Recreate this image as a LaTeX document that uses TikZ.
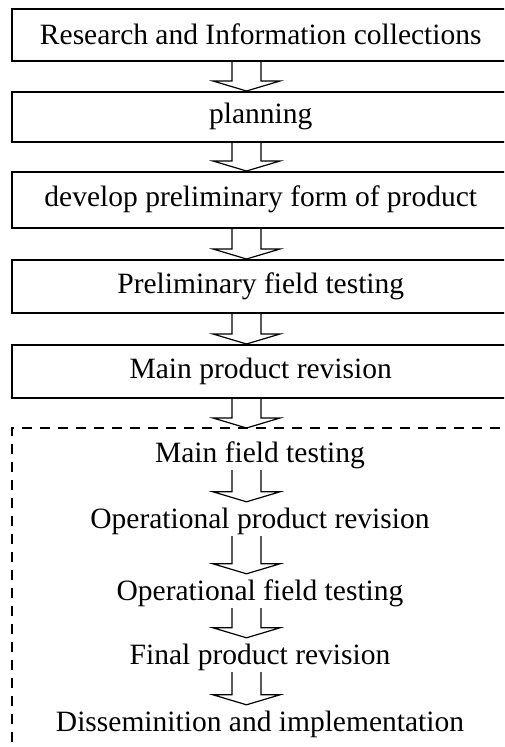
\documentclass[tikz,border=0pt]{standalone}
\usepackage{fontspec}
\setmainfont{Liberation Serif}
\usetikzlibrary{calc}
\begin{document}
\begin{tikzpicture}[x=1pt,y=1pt,
  stagebox/.style={draw, line width=1.5pt, minimum width=498pt, inner sep=0pt,
    anchor=north west, font=\fontsize{29.5}{32}\selectfont},
  stagetext/.style={inner sep=0pt, text height=26pt, text depth=8pt,
    anchor=base, font=\fontsize{29.5}{32}\selectfont},
  blockarrow/.style={draw, line width=1.2pt, line join=miter},
  groupframe/.style={draw, line width=1.8pt, dash pattern=on 10pt off 8pt}]
\useasboundingbox (0,0) rectangle (504,-747);
\clip (0,0) rectangle (504,-747);
\coordinate (ax) at (246.5,0);
\newcommand{\blockarr}[2]{%
  \draw[blockarrow] let \p1=(#1.south -| ax), \p2=(#2.north -| ax) in
    (\x1-14.5,\y1) -- (\x1-14.5,\y2+10) -- (\x1-33.5,\y2+10) -- (\x1,\y2)
    -- (\x1+33.5,\y2+10) -- (\x1+14.5,\y2+10) -- (\x1+14.5,\y1);}
% boxes
\node[stagebox, minimum height=52pt] (b1) at (11,-8) {Research and Information collections};
\node[stagebox, minimum height=50pt] (b2) at (11,-91) {planning};
\node[stagebox, minimum height=56pt] (b3) at (11,-171) {develop preliminary form of product};
\node[stagebox, minimum height=53pt] (b4) at (11,-259) {Preliminary field testing};
\node[stagebox, minimum height=53pt] (b5) at (11,-344) {Main product revision};
% dashed group frame
\draw[groupframe] (12,-760) -- (12,-428) -- (520,-428);
\coordinate (gtop) at (246.5,-428);
% inner stages
\node[stagetext] (s1) at (260,-462) {Main field testing};
\node[stagetext] (s2) at (260,-528) {Operational product revision};
\node[stagetext] (s3) at (260,-600) {Operational field testing};
\node[stagetext] (s4) at (260,-664) {Final product revision};
\node[stagetext] (s5) at (260,-731) {Disseminition and implementation};
% arrows
\blockarr{b1}{b2}
\blockarr{b2}{b3}
\blockarr{b3}{b4}
\blockarr{b4}{b5}
\draw[blockarrow] let \p1=(b5.south -| ax), \p2=(gtop) in
    (\x1-14.5,\y1) -- (\x1-14.5,\y2+10) -- (\x1-33.5,\y2+10) -- (\x1,\y2)
    -- (\x1+33.5,\y2+10) -- (\x1+14.5,\y2+10) -- (\x1+14.5,\y1);
\blockarr{s1}{s2}
\blockarr{s2}{s3}
\blockarr{s3}{s4}
\blockarr{s4}{s5}
\end{tikzpicture}
\end{document}
